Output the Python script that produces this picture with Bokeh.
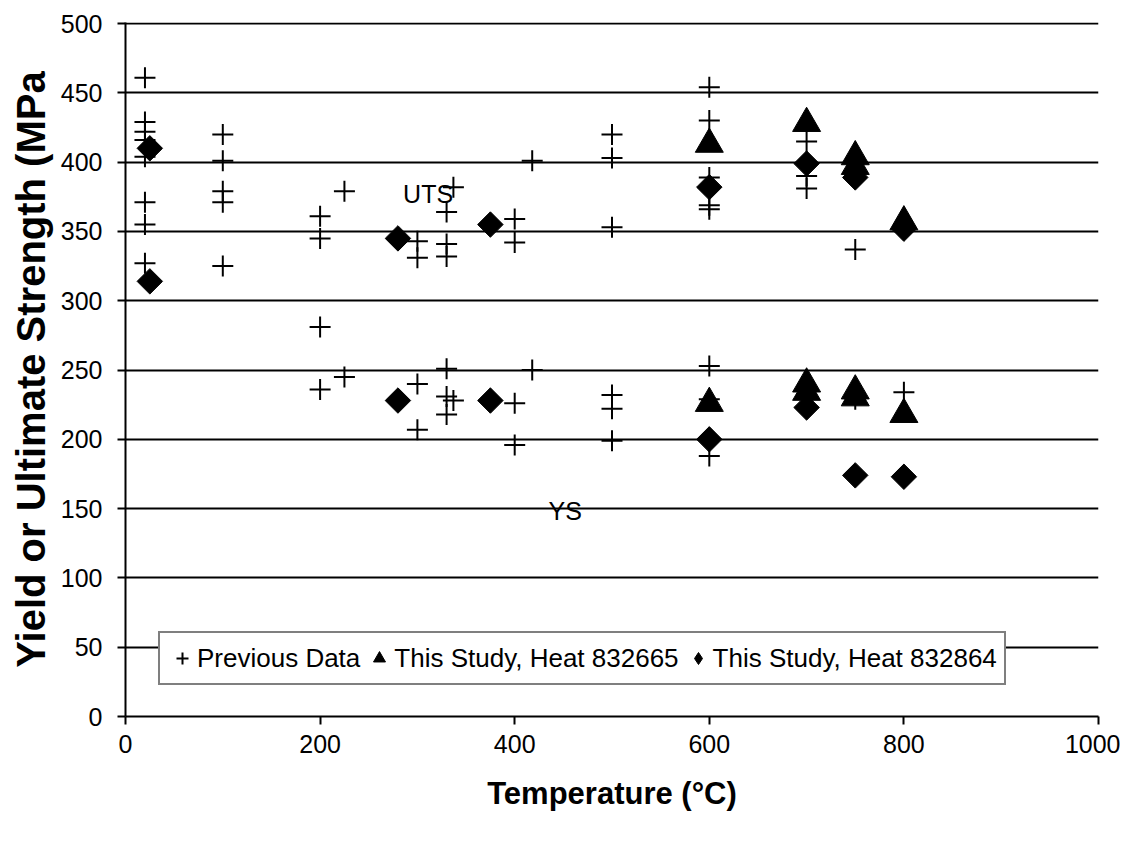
import numpy as np
from bokeh.plotting import figure
from bokeh.models import Legend, LegendItem, Label, FixedTicker, ColumnDataSource
from bokeh.embed import file_html
from bokeh.resources import INLINE

# ---------------- data ----------------
prev_temp = [20, 20, 20, 20, 20, 20, 20, 20,
             100, 100, 100, 100, 100,
             200, 200, 200, 200,
             225, 225,
             300, 300, 300, 300,
             330, 330, 330, 330, 330, 330,
             337, 337,
             400, 400, 400, 400,
             418, 418,
             500, 500, 500, 500, 500, 500,
             600, 600, 600, 600, 600, 600, 600, 600,
             700, 700, 700,
             750, 750,
             800]
prev_strength = [461, 429, 422, 416, 404, 371, 355, 327,
                 420, 401, 379, 371, 325,
                 361, 345, 281, 236,
                 379, 245,
                 343, 331, 240, 207,
                 364, 341, 332, 251, 231, 218,
                 382, 228,
                 359, 342, 226, 196,
                 401, 250,
                 420, 403, 353, 232, 222, 199,
                 454, 430, 389, 369, 366, 253, 229, 188,
                 415, 390, 381,
                 337, 229,
                 234]

heat665_temp = [600, 700, 750, 750, 800, 600, 700, 700, 750, 750, 800]
heat665_strength = [413, 428, 404, 397, 357, 226, 240, 234, 235, 230, 218]

heat864_temp = [25, 280, 375, 600, 700, 750, 800, 25, 280, 375, 600, 700, 750, 800]
heat864_strength = [410, 345, 355, 382, 399, 389, 352, 314, 228, 228, 200, 223, 174, 173]

x_ticks = [0, 200, 400, 600, 800, 1000]
y_ticks = [0, 50, 100, 150, 200, 250, 300, 350, 400, 450, 500]

legend_labels = ["Previous Data", "This Study, Heat 832665", "This Study, Heat 832864"]
uts_label = ("UTS", 311, 377)
ys_label = ("YS", 452, 148)

FONT = "Liberation Sans"

# ---------------- figure ----------------
p = figure(width=1120, height=826, x_range=(0, 1000), y_range=(0, 500.8),
           output_backend="svg", toolbar_location=None,
           min_border_left=125, min_border_right=22,
           min_border_top=22, min_border_bottom=110)
p.outline_line_color = None
p.background_fill_color = "white"
p.border_fill_color = "white"

p.xgrid.grid_line_color = None
p.ygrid.grid_line_color = "black"
p.ygrid.grid_line_width = 2
p.ygrid.grid_line_alpha = 1.0

for ax in (p.xaxis[0], p.yaxis[0]):
    ax.axis_line_color = "black"
    ax.axis_line_width = 2
    ax.major_tick_line_color = "black"
    ax.major_tick_line_width = 2
    ax.major_tick_in = 0
    ax.major_tick_out = 8
    ax.minor_tick_line_color = None
    ax.major_label_text_font = FONT
    ax.major_label_text_font_size = "25px"
    ax.major_label_text_color = "black"
    ax.axis_label_text_font = FONT
    ax.axis_label_text_font_style = "bold"
    ax.axis_label_text_color = "black"

p.xaxis.ticker = FixedTicker(ticks=x_ticks)
p.yaxis.ticker = FixedTicker(ticks=y_ticks)
p.xaxis.major_label_standoff = 10
p.yaxis.major_label_standoff = 15
p.xaxis.axis_label = "Temperature (°C)"
p.yaxis.axis_label = "Yield or Ultimate Strength (MPa"
p.xaxis.axis_label_text_font_size = "31px"
p.yaxis.axis_label_text_font_size = "40px"
p.xaxis.axis_label_standoff = 20
p.yaxis.axis_label_standoff = 5

src_prev = ColumnDataSource(dict(x=prev_temp, y=prev_strength))
src_665 = ColumnDataSource(dict(x=heat665_temp, y=heat665_strength))
src_864 = ColumnDataSource(dict(x=heat864_temp, y=heat864_strength))

r_prev = p.scatter("x", "y", source=src_prev, marker="cross", size=21,
                   line_color="black", line_width=2)
r_665 = p.scatter("x", "y", source=src_665, marker="triangle", size=28,
                  fill_color="black", line_color="black")
r_864 = p.scatter("x", "y", source=src_864, marker="square", size=18,
                  angle=np.pi / 4, fill_color="black", line_color="black")

# legend-only glyph (no visible point) so the legend shows a diamond
leg_src = ColumnDataSource(dict(x=[np.nan], y=[np.nan]))
r_864_leg = p.scatter("x", "y", source=leg_src, marker="diamond", size=10,
                      fill_color="black", line_color="black")

for txt, lx, ly in (uts_label, ys_label):
    p.add_layout(Label(x=lx, y=ly, text=txt, text_font=FONT, text_font_size="25px",
                       text_align="center", text_baseline="middle", text_color="black"))

legend = Legend(items=[LegendItem(label=legend_labels[0], renderers=[r_prev]),
                       LegendItem(label=legend_labels[1], renderers=[r_665]),
                       LegendItem(label=legend_labels[2], renderers=[r_864_leg])],
                orientation="horizontal", location=(33, 31),
                label_text_font=FONT, label_text_font_size="26px",
                label_text_color="black",
                glyph_width=30, glyph_height=36, label_standoff=0,
                spacing=4, padding=7, margin=0,
                border_line_color="black", border_line_width=2,
                background_fill_color="white", background_fill_alpha=1.0)
p.add_layout(legend, "center")

open("out.html", "w").write(file_html(p, INLINE))
